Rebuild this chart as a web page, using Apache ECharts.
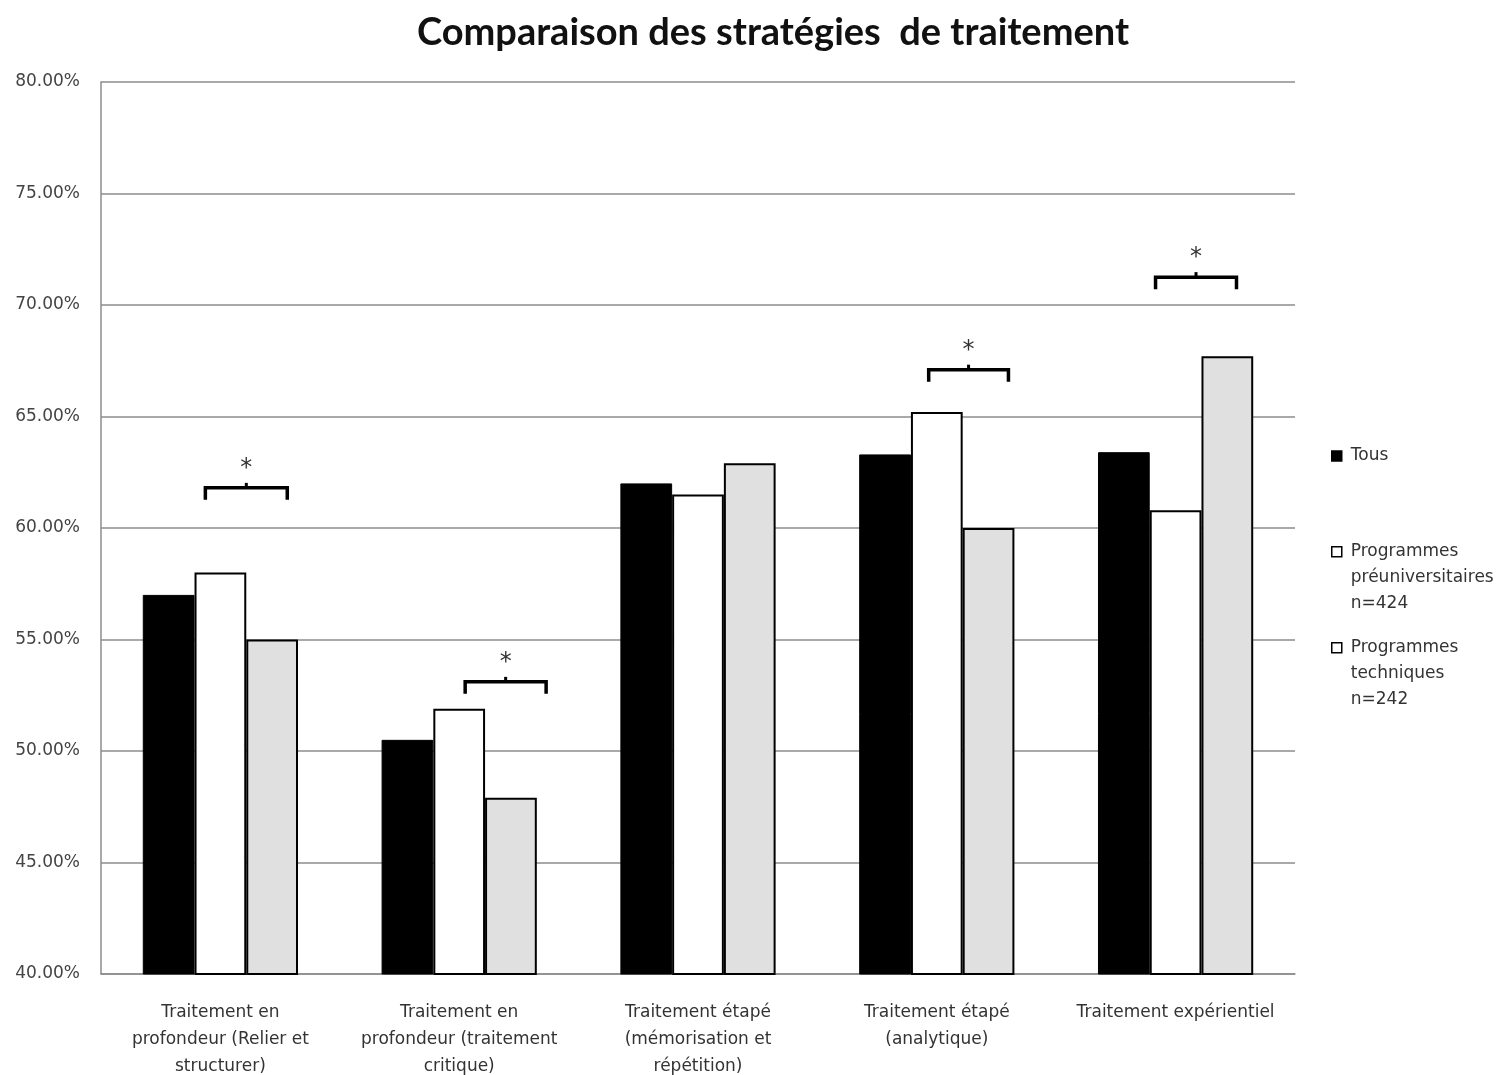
<!DOCTYPE html>
<html>
<head>
<meta charset="utf-8">
<script src="https://cdn.jsdelivr.net/npm/echarts@6/dist/echarts.min.js"></script>
<style>html,body{margin:0;padding:0;background:#fff}#chart{width:1503px;height:1075px}</style>
</head>
<body>
<div id="chart"></div>
<script>
const titleText = 'Comparaison des stratégies  de traitement';
const categories = [
  'Traitement en\nprofondeur (Relier et\nstructurer)',
  'Traitement en\nprofondeur (traitement\ncritique)',
  'Traitement étapé\n(mémorisation et\nrépétition)',
  'Traitement étapé\n(analytique)',
  'Traitement expérientiel'
];
const seriesNames = ['Tous', 'Programmes\npréuniversitaires\nn=424', 'Programmes\ntechniques\nn=242'];
const tous = [57.0, 50.5, 62.0, 63.3, 63.4];
const preuniversitaires = [58.0, 51.9, 61.5, 65.2, 60.8];
const techniques = [55.0, 47.9, 62.9, 60.0, 67.7];
// significance brackets: [category index, bracket level (%), start offset, end offset (in category widths)]
const brackets = [
  [0, 61.8, -0.063, 0.28],
  [1, 53.1, 0.025, 0.364],
  [3, 67.1, -0.034, 0.30],
  [4, 71.25, -0.084, 0.255]
];
const yMin = 40, yMax = 80, yStep = 5;

const font = 'DejaVu Sans';
const chart = echarts.init(document.getElementById('chart'));

function bracketItem(params, api) {
  const c = api.coord([api.value(0), api.value(1)]);
  const w = api.size([1, 0])[0];
  const x1 = c[0] + api.value(2) * w;
  const x2 = c[0] + api.value(3) * w;
  const y = c[1];
  const mid = (x1 + x2) / 2;
  return {
    type: 'group',
    children: [
      { type: 'polyline', shape: { points: [[x1, y + 12], [x1, y], [x2, y], [x2, y + 12]] },
        style: { stroke: '#000', lineWidth: 3.5, fill: null } },
      { type: 'line', shape: { x1: mid, y1: y, x2: mid, y2: y - 5 },
        style: { stroke: '#000', lineWidth: 3 } },
      { type: 'text', x: mid, y: y - 19,
        style: { text: '*', font: '24px "DejaVu Sans"', fill: '#333', align: 'center', verticalAlign: 'middle' } }
    ]
  };
}

// legend icons: square at top-left of a taller box, so it lines up with the first text line
const iconOne = 'path://M0,0 L10,0 L10,10 L0,10 Z M14,10';
const iconMulti = 'path://M0,0 M14,78 M0,8 L10,8 L10,18 L0,18 Z';

const legendBase = {
  orient: 'vertical', padding: 0, selectedMode: false,
  itemStyle: { borderColor: '#000', borderWidth: 1.5 },
  textStyle: { fontFamily: font, fontSize: 17, color: '#333', lineHeight: 26 }
};

chart.setOption({
  animation: false,
  backgroundColor: '#fff',
  title: {
    text: titleText, left: 768, top: 9, textAlign: 'center',
    textStyle: { fontFamily: 'Lato', fontWeight: 'bold', fontSize: 38, color: '#111' }
  },
  legend: [
    Object.assign({}, legendBase, { data: [seriesNames[0]], left: 1331, top: 443,
      icon: iconOne, itemWidth: 14, itemHeight: 10 }),
    Object.assign({}, legendBase, { data: [{ name: seriesNames[1], itemStyle: { color: '#fff' } }],
      left: 1331, top: 538, icon: iconMulti, itemWidth: 14, itemHeight: 78 }),
    Object.assign({}, legendBase, { data: [{ name: seriesNames[2], itemStyle: { color: '#fff' } }],
      left: 1331, top: 634, icon: iconMulti, itemWidth: 14, itemHeight: 78 })
  ],
  grid: { left: 101, right: 208, top: 82, bottom: 101, containLabel: false, outerBoundsMode: 'none' },
  xAxis: {
    type: 'category', data: categories,
    axisLine: { lineStyle: { color: '#8c8c8c', width: 1.5 } },
    axisTick: { show: false },
    axisLabel: { interval: 0, margin: 25, fontFamily: font, fontSize: 17, color: '#333', lineHeight: 27, align: 'center' }
  },
  yAxis: {
    type: 'value', min: yMin, max: yMax, interval: yStep,
    axisLine: { show: true, lineStyle: { color: '#8c8c8c', width: 1.5 } },
    axisTick: { show: false },
    splitLine: { lineStyle: { color: '#8c8c8c', width: 1.5 } },
    axisLabel: { margin: 21, fontFamily: font, fontSize: 17, color: '#444',
      formatter: v => v.toFixed(2) + '%' }
  },
  series: [
    { name: seriesNames[0], type: 'bar', data: tous, barGap: '0%', barCategoryGap: '35%',
      itemStyle: { color: '#000', borderColor: '#000', borderWidth: 1 } },
    { name: seriesNames[1], type: 'bar', data: preuniversitaires,
      itemStyle: { color: '#fff', borderColor: '#000', borderWidth: 2 } },
    { name: seriesNames[2], type: 'bar', data: techniques,
      itemStyle: { color: '#e0e0e0', borderColor: '#000', borderWidth: 2 } },
    { name: 'brackets', type: 'custom', data: brackets, renderItem: bracketItem,
      encode: { x: 0, y: 1 }, z: 5, silent: true }
  ]
});
</script>
</body>
</html>
